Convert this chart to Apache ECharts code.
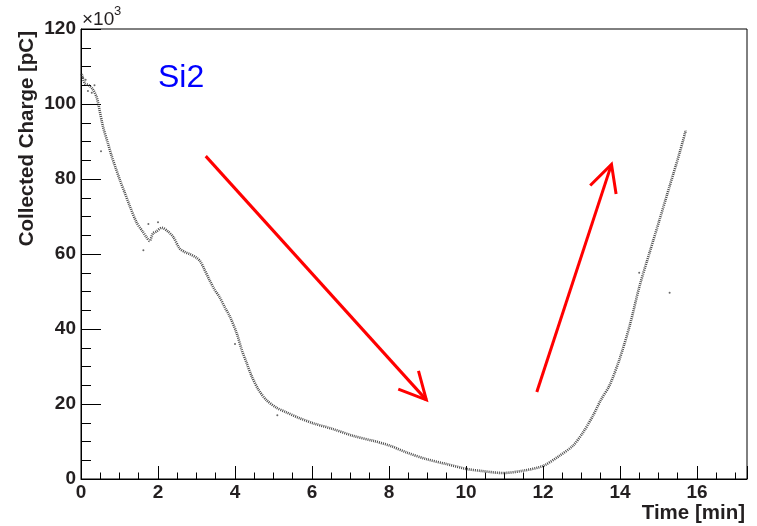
<!DOCTYPE html>
<html>
<head>
<meta charset="utf-8">
<script src="https://cdn.jsdelivr.net/npm/echarts@6/dist/echarts.min.js"></script>
<style>
  html, body { margin: 0; padding: 0; background: #fff; }
  #chart { width: 757px; height: 526px; }
</style>
</head>
<body>
<div id="chart"></div>
<script>
// time [min] and collected charge [x10^3 pC]
var times = [0.02, 0.1, 0.2, 0.3, 0.4, 0.45, 0.57, 0.7, 0.8, 0.9, 1.0, 1.13, 1.26, 1.44, 1.6, 1.7, 1.78, 1.87, 1.96, 2.1,
    2.26, 2.4, 2.56, 2.7, 2.82, 3.0, 3.1, 3.2, 3.34, 3.47, 3.6, 3.75, 3.86, 4.04, 4.17, 4.3, 4.43, 4.6, 4.82, 5.08,
    5.33, 5.68, 6.05, 6.55, 7.07, 7.58, 8.02, 8.45, 8.97, 9.49, 10.0, 10.36, 10.96, 11.48, 12.0, 12.43, 12.78, 13.04, 13.3, 13.5,
    13.73, 13.99, 14.25, 14.51, 14.77, 15.03, 15.29, 15.55, 15.71];
var charge = [108, 105.5, 105, 104, 102, 100, 94, 89.5, 86, 83, 80, 76.5, 73, 68.5, 66, 64.5, 63.5, 65.5, 66, 67,
    66, 64.5, 61.5, 60.5, 60, 59, 58, 56, 53, 50.5, 48.5, 45.5, 43.5, 39, 34.6, 31, 27.5, 24, 21, 19,
    17.8, 16.2, 14.8, 13.3, 11.5, 10.2, 8.9, 7.1, 5.3, 4.0, 2.7, 2.2, 1.6, 2.2, 3.5, 6.2, 8.9, 12.4, 16.9, 21,
    25, 32, 40.8, 51.5, 60.4, 69.2, 78.1, 87, 93];
// stray points off the main band
var strayT = [0.05, 0.12, 0.18, 0.28, 0.35, 0.52, 1.62, 1.75, 2.0, 4.0, 5.1, 15.29, 14.5];
var strayQ = [107, 106.5, 103.5, 103, 105, 87.4, 61, 68, 68.5, 36, 17, 49.7, 55];

// red annotation arrows: [t0, q0, t1, q1]
var arrows = [
    [3.24, 86.1, 8.97, 21.1],
    [11.84, 23.2, 13.78, 83.9]
];

var xTicks = { min: 0, max: 17.3, step: 2 };
var yTicks = { min: 0, max: 120, step: 20 };

var curve = times.map(function (t, i) { return [t, charge[i]]; });
var stray = strayT.map(function (t, i) { return [t, strayQ[i]]; });

var font = "'Liberation Sans', Arial, Helvetica, sans-serif";
var ink = '#231f20';

var myChart = echarts.init(document.getElementById('chart'));
var option = {
    animation: false,
    backgroundColor: '#fff',
    grid: {
        left: 81, right: 10, top: 29, bottom: 47,
        show: true, borderColor: '#000', borderWidth: 1, backgroundColor: 'transparent'
    },
    xAxis: {
        type: 'value',
        min: xTicks.min, max: xTicks.max, interval: xTicks.step,
        axisLine: { onZero: false, lineStyle: { color: '#000', width: 1 } },
        axisTick: { inside: true, length: 13, lineStyle: { color: '#000' } },
        minorTick: { show: true, splitNumber: 4, length: 6.5, lineStyle: { color: '#000' } },
        splitLine: { show: false },
        axisLabel: { showMaxLabel: false, margin: 4, color: ink, fontSize: 19, fontWeight: 'bold', fontFamily: font }
    },
    yAxis: {
        type: 'value',
        min: yTicks.min, max: yTicks.max, interval: yTicks.step,
        axisLine: { show: true, onZero: false, lineStyle: { color: '#000', width: 1 } },
        axisTick: { show: true, inside: true, length: 20, lineStyle: { color: '#000' } },
        minorTick: { show: true, splitNumber: 4, length: 10, lineStyle: { color: '#000' } },
        splitLine: { show: false },
        axisLabel: { margin: 5, color: ink, fontSize: 19, fontWeight: 'bold', fontFamily: font }
    },
    graphic: [
        {
            type: 'text', x: 27, y: 31, rotation: Math.PI / 2,
            style: { text: 'Collected Charge [pC]', align: 'right', verticalAlign: 'middle',
                fill: ink, font: 'bold 20.5px ' + font }
        },
        {
            type: 'text', x: 745, y: 513,
            style: { text: 'Time [min]', align: 'right', verticalAlign: 'middle',
                fill: ink, font: 'bold 20.5px ' + font }
        },
        {
            type: 'text', x: 82, y: 20,
            style: { text: '\u00d710', align: 'left', verticalAlign: 'middle', fill: ink, font: '19px ' + font }
        },
        {
            type: 'text', x: 114, y: 11,
            style: { text: '3', align: 'left', verticalAlign: 'middle', fill: ink, font: '13px ' + font }
        },
        {
            type: 'text', x: 158, y: 78,
            style: { text: 'Si2', align: 'left', verticalAlign: 'middle', fill: '#0000ff', font: '32px ' + font }
        }
    ],
    series: [
        {
            type: 'line',
            data: curve,
            smooth: 0.3,
            showSymbol: false,
            lineStyle: { color: 'rgba(45,45,45,0.85)', width: 2.6, type: [1, 1] },
            z: 2
        },
        {
            type: 'scatter',
            data: stray,
            symbolSize: 2,
            itemStyle: { color: '#444' },
            z: 2
        },
        {
            type: 'custom',
            data: arrows,
            encode: { x: [0, 2], y: [1, 3] },
            z: 5,
            renderItem: function (params, api) {
                var p0 = api.coord([api.value(0), api.value(1)]);
                var p1 = api.coord([api.value(2), api.value(3)]);
                var ang = Math.atan2(p0[1] - p1[1], p0[0] - p1[0]);
                var len = 30, spread = 27 * Math.PI / 180;
                var b1 = [p1[0] + len * Math.cos(ang + spread), p1[1] + len * Math.sin(ang + spread)];
                var b2 = [p1[0] + len * Math.cos(ang - spread), p1[1] + len * Math.sin(ang - spread)];
                var st = { stroke: '#ff0000', lineWidth: 3, fill: null };
                return {
                    type: 'group',
                    children: [
                        { type: 'polyline', shape: { points: [p0, p1] }, style: st },
                        { type: 'polyline', shape: { points: [b1, p1, b2] }, style: st }
                    ]
                };
            }
        }
    ]
};
myChart.setOption(option);
</script>
</body>
</html>
